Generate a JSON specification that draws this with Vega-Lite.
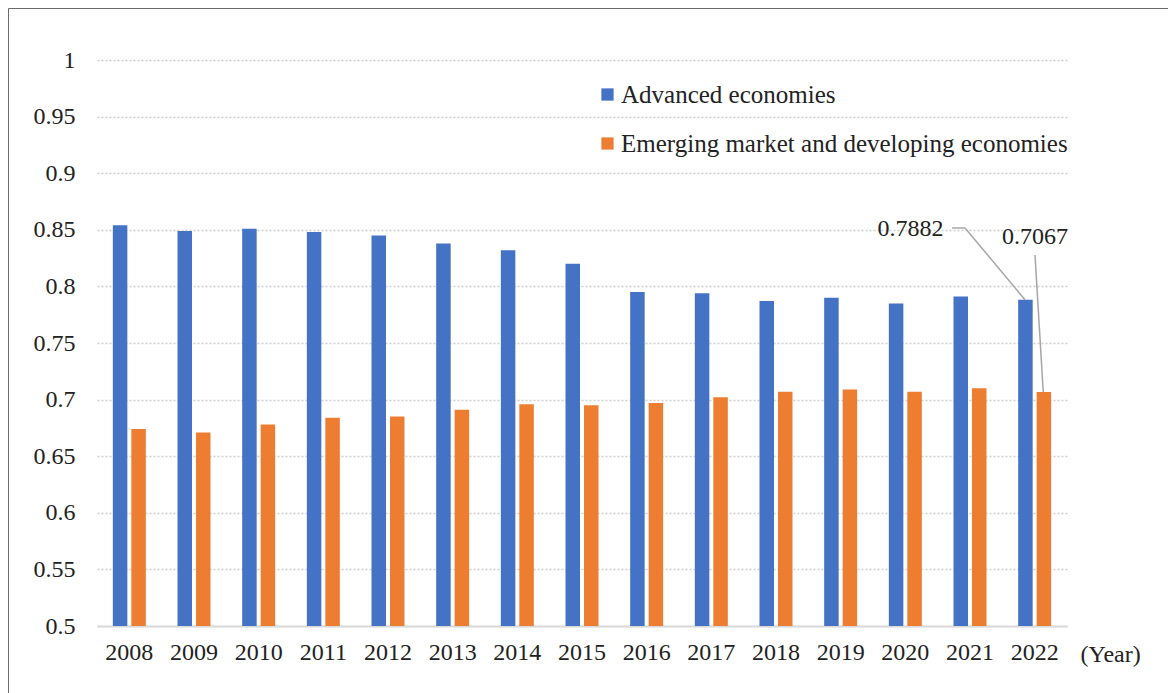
{
  "$schema": "https://vega.github.io/schema/vega-lite/v6.json",
  "width": 1170,
  "height": 695,
  "autosize": {"type": "none"},
  "padding": {"left": 8, "top": 8, "right": -10, "bottom": -10},
  "background": "white",
  "config": {
    "view": {"stroke": "#6b6b6b", "strokeWidth": 1},
    "font": "Liberation Serif",
    "axis": {"labelFont": "Liberation Serif", "titleFont": "Liberation Serif"},
    "legend": {"labelFont": "Liberation Serif", "titleFont": "Liberation Serif"},
    "text": {"font": "Liberation Serif"}
  },
  "datasets": {
    "main": [
      {"year": "2008", "series": "Advanced economies", "value": 0.854},
      {"year": "2008", "series": "Emerging market and developing economies", "value": 0.674},
      {"year": "2009", "series": "Advanced economies", "value": 0.849},
      {"year": "2009", "series": "Emerging market and developing economies", "value": 0.671},
      {"year": "2010", "series": "Advanced economies", "value": 0.851},
      {"year": "2010", "series": "Emerging market and developing economies", "value": 0.678},
      {"year": "2011", "series": "Advanced economies", "value": 0.848},
      {"year": "2011", "series": "Emerging market and developing economies", "value": 0.684},
      {"year": "2012", "series": "Advanced economies", "value": 0.845},
      {"year": "2012", "series": "Emerging market and developing economies", "value": 0.685},
      {"year": "2013", "series": "Advanced economies", "value": 0.838},
      {"year": "2013", "series": "Emerging market and developing economies", "value": 0.691},
      {"year": "2014", "series": "Advanced economies", "value": 0.832},
      {"year": "2014", "series": "Emerging market and developing economies", "value": 0.696},
      {"year": "2015", "series": "Advanced economies", "value": 0.820},
      {"year": "2015", "series": "Emerging market and developing economies", "value": 0.695},
      {"year": "2016", "series": "Advanced economies", "value": 0.795},
      {"year": "2016", "series": "Emerging market and developing economies", "value": 0.697},
      {"year": "2017", "series": "Advanced economies", "value": 0.794},
      {"year": "2017", "series": "Emerging market and developing economies", "value": 0.702},
      {"year": "2018", "series": "Advanced economies", "value": 0.787},
      {"year": "2018", "series": "Emerging market and developing economies", "value": 0.707},
      {"year": "2019", "series": "Advanced economies", "value": 0.790},
      {"year": "2019", "series": "Emerging market and developing economies", "value": 0.709},
      {"year": "2020", "series": "Advanced economies", "value": 0.785},
      {"year": "2020", "series": "Emerging market and developing economies", "value": 0.707},
      {"year": "2021", "series": "Advanced economies", "value": 0.791},
      {"year": "2021", "series": "Emerging market and developing economies", "value": 0.710},
      {"year": "2022", "series": "Advanced economies", "value": 0.7882},
      {"year": "2022", "series": "Emerging market and developing economies", "value": 0.7067}
    ]
  },
  "layer": [
    {
      "data": {"name": "main"},
      "mark": {"type": "bar"},
      "encoding": {
        "x": {
          "field": "year",
          "type": "nominal",
          "scale": {"range": [89, 1059], "paddingInner": 0.49, "paddingOuter": 0.245},
          "axis": {
            "orient": "bottom",
            "offset": -77,
            "ticks": false,
            "domain": true,
            "domainColor": "#d9d9d9",
            "domainWidth": 2,
            "grid": false,
            "labelAngle": 0,
            "labelFont": "Liberation Serif",
            "labelFontSize": 24,
            "labelColor": "#222222",
            "labelPadding": 14,
            "labelOverlap": false,
            "title": "(Year)",
            "titleFont": "Liberation Serif",
            "titleFontSize": 24,
            "titleFontWeight": "normal",
            "titleColor": "#222222",
            "titleAlign": "left",
            "titleBaseline": "middle",
            "titleX": 1072,
            "titleY": 28
          }
        },
        "xOffset": {
          "field": "series",
          "type": "nominal",
          "sort": ["Advanced economies", "Emerging market and developing economies"],
          "scale": {"paddingInner": 0.216, "paddingOuter": 0}
        },
        "y": {
          "field": "value",
          "type": "quantitative",
          "scale": {"domain": [0.5, 1], "range": [618, 52], "zero": false, "nice": false},
          "axis": {
            "offset": -75,
            "values": [0.5, 0.55, 0.6, 0.65, 0.7, 0.75, 0.8, 0.85, 0.9, 0.95, 1],
            "format": "~g",
            "domain": false,
            "ticks": false,
            "labelPadding": 8,
            "labelFont": "Liberation Serif",
            "labelFontSize": 24,
            "labelColor": "#222222",
            "grid": true,
            "gridColor": "#cfcfcf",
            "gridDash": [2, 2],
            "gridWidth": 1.5,
            "title": null
          }
        },
        "y2": {"datum": 0.5},
        "color": {
          "field": "series",
          "type": "nominal",
          "scale": {
            "domain": ["Advanced economies", "Emerging market and developing economies"],
            "range": ["#4472C4", "#ED7D31"]
          },
          "legend": {
            "orient": "none",
            "legendX": 587,
            "legendY": 74,
            "title": null,
            "symbolType": "square",
            "symbolSize": 150,
            "symbolStrokeWidth": 0,
            "labelFont": "Liberation Serif",
            "labelFontSize": 25,
            "labelColor": "#222222",
            "labelLimit": 0,
            "labelOffset": 1,
            "rowPadding": 23,
            "padding": 0,
            "direction": "vertical"
          }
        }
      }
    },
    {
      "data": {"values": [{"xa": "2022", "ya": 0.7882, "xb": "2021", "yb": 0.8516}]},
      "mark": {"type": "rule", "color": "#a6a6a6", "strokeWidth": 1.5},
      "encoding": {
        "x": {"field": "xa", "type": "nominal", "bandPosition": 0.206},
        "x2": {"field": "xb", "bandPosition": 0.35},
        "y": {"field": "ya", "type": "quantitative"},
        "y2": {"field": "yb"}
      }
    },
    {
      "data": {"values": [{"xa": "2021", "ya": 0.8516, "xb": "2021", "yb": 0.8516}]},
      "mark": {"type": "rule", "color": "#a6a6a6", "strokeWidth": 1.5},
      "encoding": {
        "x": {"field": "xa", "type": "nominal", "bandPosition": 0.35},
        "x2": {"field": "xb", "bandPosition": -0.045},
        "y": {"field": "ya", "type": "quantitative"},
        "y2": {"field": "yb"}
      }
    },
    {
      "data": {"values": [{"xa": "2022", "ya": 0.7067, "xb": "2022", "yb": 0.8277}]},
      "mark": {"type": "rule", "color": "#a6a6a6", "strokeWidth": 1.5},
      "encoding": {
        "x": {"field": "xa", "type": "nominal", "bandPosition": 0.76},
        "x2": {"field": "xb", "bandPosition": 0.51},
        "y": {"field": "ya", "type": "quantitative"},
        "y2": {"field": "yb"}
      }
    },
    {
      "data": {"values": [{"year": "2021", "pos": 0.8507, "label": "0.7882"}]},
      "mark": {"type": "text", "align": "right", "baseline": "middle", "fontSize": 24, "font": "Liberation Serif", "color": "#222222"},
      "encoding": {
        "x": {"field": "year", "type": "nominal", "bandPosition": -0.3},
        "y": {"field": "pos", "type": "quantitative"},
        "text": {"field": "label"}
      }
    },
    {
      "data": {"values": [{"year": "2022", "pos": 0.8436, "label": "0.7067"}]},
      "mark": {"type": "text", "align": "center", "baseline": "middle", "fontSize": 24, "font": "Liberation Serif", "color": "#222222"},
      "encoding": {
        "x": {"field": "year", "type": "nominal", "bandPosition": 0.51},
        "y": {"field": "pos", "type": "quantitative"},
        "text": {"field": "label"}
      }
    }
  ]
}
